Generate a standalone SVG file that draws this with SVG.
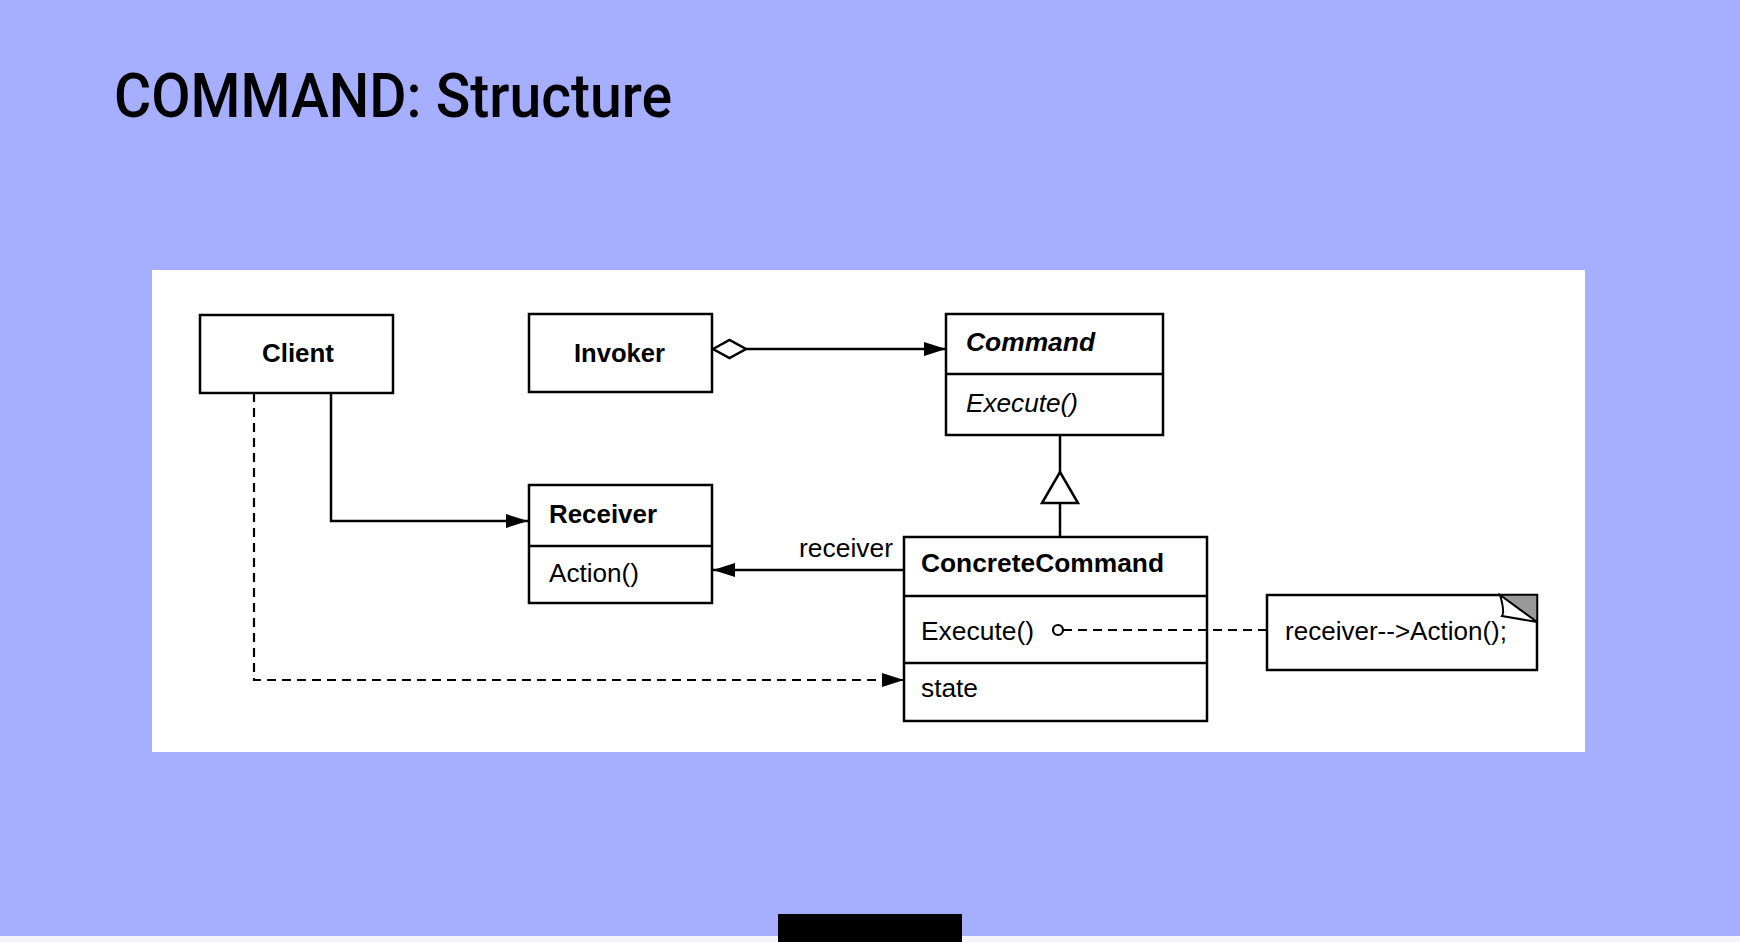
<svg xmlns="http://www.w3.org/2000/svg" width="1740" height="942" viewBox="0 0 1740 942">
<style>
.box{fill:#fff;stroke:#000;stroke-width:2.5}
.div{stroke:#000;stroke-width:2.5}
.t{font-family:"Liberation Sans",Arial,sans-serif;font-size:25px;fill:#000}
.b{font-weight:bold}
.i{font-style:italic}
.ln{fill:none;stroke:#000;stroke-width:2.5}
.dash{fill:none;stroke:#000;stroke-width:2.2;stroke-dasharray:9 6}
</style>
<defs>
<marker id="arrow" viewBox="0 0 22 14" refX="22" refY="7" markerWidth="22" markerHeight="14" markerUnits="userSpaceOnUse" orient="auto">
<path d="M0,0 L22,7 L0,14 Z" fill="#000" stroke="none"/>
</marker>
</defs>
<rect x="0" y="0" width="1740" height="942" fill="#a6aeff"/>
<rect x="0" y="936" width="1740" height="6" fill="#f4f4fb"/>
<rect x="778" y="914" width="184" height="28" fill="#000"/>
<text x="114" y="117" font-family="Roboto,sans-serif" font-size="62" font-weight="500" fill="#000" textLength="558" lengthAdjust="spacingAndGlyphs">COMMAND: Structure</text>
<rect x="152" y="270" width="1433" height="482" fill="#fff"/>

<g id="client">
<rect class="box" x="200" y="315" width="193" height="78"/>
<text class="t b" x="262" y="362" textLength="72" lengthAdjust="spacingAndGlyphs">Client</text>
</g>
<g id="invoker">
<rect class="box" x="529" y="314" width="183" height="78"/>
<text class="t b" x="574" y="362" textLength="91" lengthAdjust="spacingAndGlyphs">Invoker</text>
</g>
<g id="command">
<rect class="box" x="946" y="314" width="217" height="121"/>
<line class="div" x1="946" y1="374" x2="1163" y2="374"/>
<text class="t b i" x="966" y="351" textLength="129" lengthAdjust="spacingAndGlyphs">Command</text>
<text class="t i" x="966" y="412" textLength="112" lengthAdjust="spacingAndGlyphs">Execute()</text>
</g>
<g id="receiver">
<rect class="box" x="529" y="485" width="183" height="118"/>
<line class="div" x1="529" y1="546" x2="712" y2="546"/>
<text class="t b" x="549" y="523" textLength="108" lengthAdjust="spacingAndGlyphs">Receiver</text>
<text class="t" x="549" y="582" textLength="90" lengthAdjust="spacingAndGlyphs">Action()</text>
</g>
<g id="concretecommand">
<rect class="box" x="904" y="537" width="303" height="184"/>
<line class="div" x1="904" y1="596" x2="1207" y2="596"/>
<line class="div" x1="904" y1="663" x2="1207" y2="663"/>
<text class="t b" x="921" y="572" textLength="243" lengthAdjust="spacingAndGlyphs">ConcreteCommand</text>
<text class="t" x="921" y="640" textLength="113" lengthAdjust="spacingAndGlyphs">Execute()</text>
<text class="t" x="921" y="697" textLength="57" lengthAdjust="spacingAndGlyphs">state</text>
</g>
<g id="note">
<rect class="box" x="1267" y="595" width="270" height="75"/>
<path d="M1500,595 H1537 V622 Z" fill="#999" stroke="#000" stroke-width="1.5"/>
<path d="M1500,595 Q1505,612 1502,616 L1537,622 Z" fill="#fff" stroke="#000" stroke-width="2"/>
<text class="t" x="1285" y="640" textLength="222" lengthAdjust="spacingAndGlyphs">receiver-->Action();</text>
</g>

<g id="connectors">
<path class="ln" d="M746,349 H946" marker-end="url(#arrow)"/>
<path d="M713,349 L729.5,340 L746,349 L729.5,358 Z" fill="#fff" stroke="#000" stroke-width="2.5"/>
<path class="ln" d="M331,393 V521 H528" marker-end="url(#arrow)"/>
<path class="ln" d="M904,570 H713" marker-end="url(#arrow)"/>
<text class="t" x="799" y="557" textLength="94" lengthAdjust="spacingAndGlyphs">receiver</text>
<path class="ln" d="M1060,435 V472 M1060,503 V537"/>
<path d="M1060,472 L1078,503 L1042,503 Z" fill="#fff" stroke="#000" stroke-width="2.5"/>
<path class="dash" d="M254,393 V680 H904" marker-end="url(#arrow)"/>
<circle cx="1058" cy="630" r="5" fill="#fff" stroke="#000" stroke-width="2.2"/>
<path class="dash" d="M1063,630 H1267"/>
</g>
</svg>
